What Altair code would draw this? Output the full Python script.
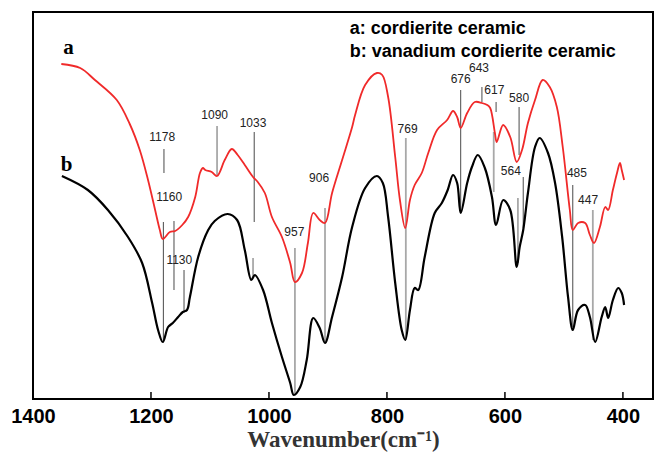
import altair as alt
import pandas as pd

# ---- data ----
red_wn = [1352, 1320, 1295, 1258, 1236, 1219, 1205, 1193, 1185, 1180, 1168, 1159, 1147, 1137,
          1125, 1117, 1112, 1108, 1097, 1088, 1075, 1063, 1053, 1041, 1027, 1019, 1007, 995, 978,
          964, 956, 944, 934, 925, 914, 905, 893, 876, 859, 854, 837, 817, 808, 798, 786, 778,
          769, 761, 753, 741, 730, 715, 698, 688, 681, 675, 664, 651, 639, 630, 625, 617, 614,
          603, 591, 580, 571, 561, 549, 536, 524, 512, 502, 490, 485, 476, 464, 456, 449, 439,
          430, 425, 417, 410, 405, 402, 398]
red_val = [335, 331, 319, 299, 275, 249, 219, 189, 169, 160, 167, 168, 174, 182,
           202, 226, 231, 229, 227, 223, 239, 250, 244, 234, 222, 217, 206, 182, 162,
           136, 117, 126, 156, 186, 179, 176, 206, 239, 272, 284, 314, 326, 324, 302, 242, 199,
           171, 199, 214, 226, 246, 269, 279, 288, 282, 271, 286, 297, 296, 294, 291, 266, 257,
           274, 262, 237, 249, 276, 299, 319, 312, 292, 252, 189, 169, 176, 176, 164, 156, 172,
           192, 189, 209, 226, 236, 229, 219]

black_wn = [1351, 1307, 1273, 1239, 1215, 1198, 1188, 1180, 1171, 1163, 1154, 1146, 1139, 1134,
            1120, 1103, 1092, 1070, 1054, 1041, 1030, 1024, 1010, 995, 978, 964, 958, 947, 936,
            925, 914, 905, 893, 876, 859, 837, 817, 807, 798, 786, 775, 769, 761, 753, 747, 736,
            719, 707, 697, 688, 681, 675, 664, 656, 646, 634, 622, 615, 603, 591, 580, 575, 569,
            561, 549, 541, 527, 515, 503, 493, 485, 476, 464, 456, 447, 436, 430, 425, 417, 408,
            402, 398]
black_val = [223, 209, 189, 162, 136, 96, 69, 57, 72, 76, 82, 87, 89, 102,
             142, 169, 178, 185, 179, 149, 119, 124, 109, 76, 42, 16, 4, 12, 39,
             81, 71, 56, 82, 122, 172, 211, 223, 216, 182, 116, 69, 59, 89, 111, 109, 142,
             186, 196, 209, 224, 216, 186, 216, 232, 244, 231, 202, 174, 199, 189, 132, 152, 169,
             206, 252, 261, 246, 216, 162, 102, 69, 89, 94, 82, 57, 82, 92, 81, 99, 111,
             106, 94]

# peak marker lines (wavenumber, top, bottom)
dark_rule_wn = [1178, 1179, 1161, 1144, 1025, 675, 639, 615, 576, 569, 485]
dark_rule_top = [250, 177, 178, 129, 267, 309, 312, 297, 292, 222, 214]
dark_rule_bot = [226, 59, 109, 86, 177, 186, 297, 287, 244, 171, 72]

light_rule_wn = [1088, 1027, 956, 905, 768, 619, 578, 451]
light_rule_top = [273, 141, 151, 191, 261, 267, 201, 189]
light_rule_bot = [224, 122, 4, 56, 59, 207, 136, 59]

peak_labels = ["1178", "1160", "1130", "1090", "1033", "957", "906", "769",
               "676", "643", "617", "580", "564", "485", "447"]
peak_label_wn = [1181, 1169, 1152, 1092, 1027, 957, 915, 765, 675, 644, 618, 576, 590, 478, 459]
peak_label_val = [262, 202, 139, 284, 276, 167, 221, 270, 320, 331, 309, 301, 228, 226, 199]

legend_lines = ["a: cordierite ceramic", "b: vanadium cordierite ceramic"]
legend_wn = [863, 863]
legend_val = [370, 347]

curve_names = ["a", "b"]
curve_name_wn = [1340, 1343]
curve_name_val = [351, 234]

tick_values = [1400, 1200, 1000, 800, 600, 400]

# ---- build tables ----
spec = pd.concat([
    pd.DataFrame({"wn": red_wn, "val": red_val, "s": "a"}),
    pd.DataFrame({"wn": black_wn, "val": black_val, "s": "b"}),
])
dark_df = pd.DataFrame({"wn": dark_rule_wn, "y1": dark_rule_top, "y2": dark_rule_bot})
light_df = pd.DataFrame({"wn": light_rule_wn, "y1": light_rule_top, "y2": light_rule_bot})
lab_df = pd.DataFrame({"wn": peak_label_wn, "val": peak_label_val, "t": peak_labels})
leg_df = pd.DataFrame({"wn": legend_wn, "val": legend_val, "t": legend_lines})
name_df = pd.DataFrame({"wn": curve_name_wn, "val": curve_name_val, "t": curve_names})
tick_df = pd.DataFrame({"wn": tick_values, "y1": 0, "y2": 7})

xs = alt.Scale(domain=[349, 1400], reverse=True, nice=False, zero=False)
ys = alt.Scale(domain=[0, 387], nice=False, zero=False)

xaxis = alt.Axis(values=tick_values, format="d", ticks=False, domain=False, grid=False,
                 labelFont="Liberation Sans", labelFontWeight="bold", labelFontSize=20,
                 labelColor="black", labelPadding=7, labelFlush=False, labelOverlap=False,
                 title="Wavenumber(cm\u207b\u00b9)", titleFont="Liberation Serif",
                 titleFontWeight="bold", titleFontSize=23, titleColor="#333333", titlePadding=2)

X = alt.X("wn:Q", scale=xs, axis=xaxis)
Y = alt.Y("val:Q", scale=ys, axis=None)
Y1 = alt.Y("y1:Q", scale=ys, axis=None)

lines = alt.Chart(spec).mark_line(interpolate="catmull-rom").encode(
    x=X, y=Y,
    color=alt.Color("s:N", scale=alt.Scale(domain=["a", "b"], range=["#f02a2a", "#000000"]), legend=None),
    strokeWidth=alt.StrokeWidth("s:N", scale=alt.Scale(domain=["a", "b"], range=[1.8, 2.2]), legend=None),
    order=alt.Order("wn:Q", sort="descending"),
)

dark_rules = alt.Chart(dark_df).mark_rule(color="#4a4a4a", strokeWidth=1).encode(
    x=X, y=Y1, y2="y2:Q")
light_rules = alt.Chart(light_df).mark_rule(color="#a8a8a8", strokeWidth=1.8).encode(
    x=X, y=Y1, y2="y2:Q")

labels = alt.Chart(lab_df).mark_text(font="Liberation Sans", fontSize=12, color="#222222",
                                     baseline="middle", align="center").encode(
    x=X, y=Y, text="t:N")

legend = alt.Chart(leg_df).mark_text(font="Liberation Sans", fontSize=18, fontWeight="bold",
                                     color="black", baseline="middle", align="left").encode(
    x=X, y=Y, text="t:N")

names = alt.Chart(name_df).mark_text(font="Liberation Serif", fontSize=21, fontWeight="bold",
                                     color="black", baseline="middle", align="center").encode(
    x=X, y=Y, text="t:N")

ticks = alt.Chart(tick_df).mark_rule(color="black", strokeWidth=1.5).encode(
    x=X, y=Y1, y2="y2:Q")

chart = alt.layer(ticks, dark_rules, light_rules, lines, labels, legend, names).properties(
    width=620, height=387,
    autosize=alt.AutoSizeParams(type="none"),
    padding={"left": 33, "top": 12, "right": 7, "bottom": 56},
    background="white",
).configure_view(stroke="black", strokeWidth=2)

chart.save("out.html", embed_options={"renderer": "svg", "actions": False})
